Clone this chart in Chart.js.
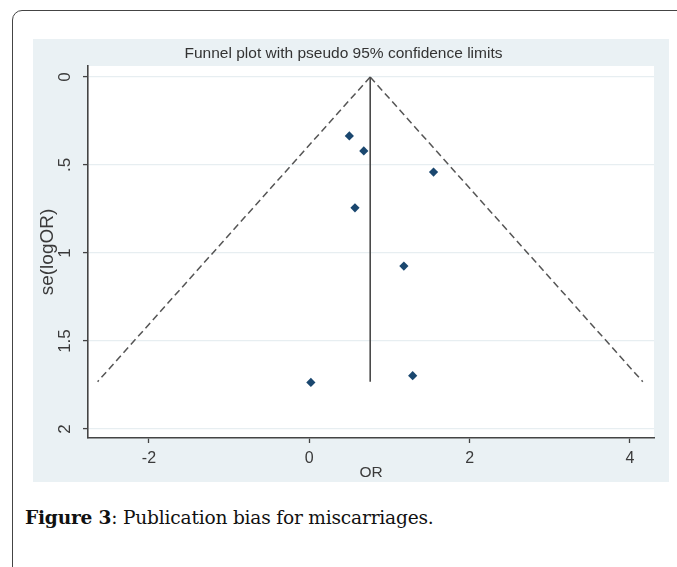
<!DOCTYPE html>
<html>
<head>
<meta charset="utf-8">
<script src="https://cdn.jsdelivr.net/npm/chart.js@4/dist/chart.umd.min.js"></script>
<style>
  html, body { margin: 0; padding: 0; background: #fff; overflow: hidden; }
  body { width: 677px; height: 567px; position: relative; }
  .frame {
    position: absolute; left: 12px; top: 10px; width: 800px; height: 700px;
    border: 1.5px solid #444; border-radius: 10px; box-sizing: border-box;
  }
  .panel {
    position: absolute; left: 33px; top: 39px; width: 636px; height: 443px;
    background: #eaf1f4;
  }
  .caption {
    position: absolute; left: 25px; top: 507px;
    font-family: "DejaVu Serif", "Liberation Serif", serif; font-size: 18.6px; color: #111;
    white-space: nowrap; letter-spacing: -0.2px;
  }
  .caption b { font-weight: bold; }
</style>
</head>
<body>
<div class="frame"></div>
<div class="panel"><canvas id="funnel" width="636" height="443"></canvas></div>
<div class="caption"><b>Figure 3</b>: Publication bias for miscarriages.</div>

<script>
// --- datos ---
const orValues = [0.50, 0.68, 1.55, 0.57, 1.18, 0.02, 1.29];
const seValues = [0.335, 0.42, 0.54, 0.743, 1.074, 1.735, 1.697];

// linea del efecto combinado y limites pseudo 95%
const pooledLine = [{ x: 0.76, y: 0 }, { x: 0.76, y: 1.731 }];
const leftLimit = [{ x: 0.76, y: 0 }, { x: -2.64, y: 1.731 }];
const rightLimit = [{ x: 0.76, y: 0 }, { x: 4.16, y: 1.731 }];

const xTicks = [-2, 0, 2, 4];
const yTicks = [0, 0.5, 1, 1.5, 2];
const yTickLabels = ['0', '.5', '1', '1.5', '2'];

const studyPoints = orValues.map((v, i) => ({ x: v, y: seValues[i] }));

// fondo blanco del area de trazado (estilo Stata)
const plotBg = {
  id: 'plotBg',
  beforeDraw(chart) {
    const { ctx, chartArea: a } = chart;
    ctx.save();
    ctx.fillStyle = '#ffffff';
    ctx.fillRect(a.left, a.top, a.right - a.left, a.bottom - a.top);
    ctx.restore();
  }
};

const sans = '"Liberation Sans", Arial, sans-serif';

new Chart(document.getElementById('funnel'), {
  type: 'scatter',
  data: {
    datasets: [
      {
        label: 'studies',
        data: studyPoints,
        pointStyle: 'rectRot',
        pointRadius: 4.6,
        backgroundColor: '#1a476f',
        borderColor: '#1a476f',
        borderWidth: 0,
        order: 0
      },
      {
        label: 'pooled',
        data: pooledLine,
        showLine: true,
        borderColor: '#4a4a4a',
        borderWidth: 1.6,
        pointRadius: 0,
        order: 1
      },
      {
        label: 'lower',
        data: leftLimit,
        showLine: true,
        borderColor: '#555',
        borderWidth: 1.5,
        borderDash: [7, 4],
        pointRadius: 0,
        order: 1
      },
      {
        label: 'upper',
        data: rightLimit,
        showLine: true,
        borderColor: '#555',
        borderWidth: 1.5,
        borderDash: [7, 4],
        pointRadius: 0,
        order: 1
      }
    ]
  },
  options: {
    responsive: false,
    animation: false,
    events: [],
    layout: { padding: { left: 0, right: 15, top: 0, bottom: 0 } },
    plugins: {
      legend: { display: false },
      tooltip: { enabled: false },
      title: {
        display: true,
        text: 'Funnel plot with pseudo 95% confidence limits',
        color: '#333',
        font: { family: sans, size: 15.5, weight: 'normal', lineHeight: 1.2 },
        padding: { top: 5, bottom: 3.4 }
      }
    },
    scales: {
      x: {
        type: 'linear',
        min: -2.76,
        max: 4.30,
        afterBuildTicks: (s) => { s.ticks = xTicks.map(v => ({ value: v })); },
        afterFit: (s) => { s.height = 44; },
        border: { display: true, color: '#444', width: 1.6 },
        grid: { drawOnChartArea: false, drawTicks: true, tickLength: 5, tickColor: '#444', tickWidth: 1.3 },
        ticks: { color: '#3a3a3a', font: { family: sans, size: 16 }, padding: 6, maxRotation: 0 },
        title: { display: true, text: 'OR', color: '#3a3a3a', font: { family: sans, size: 15.5 }, padding: { top: 0, bottom: 0 } }
      },
      y: {
        type: 'linear',
        reverse: true,
        min: -0.0625,
        max: 2.051,
        afterBuildTicks: (s) => { s.ticks = yTicks.map(v => ({ value: v })); },
        afterFit: (s) => { s.width = 55; },
        border: { display: true, color: '#444', width: 1.6 },
        grid: { color: '#e7eef1', lineWidth: 1.2, drawTicks: true, tickLength: 5, tickColor: '#444', tickWidth: 1.3 },
        ticks: {
          color: '#3a3a3a',
          font: { family: sans, size: 17 },
          minRotation: 90,
          maxRotation: 90,
          crossAlign: 'center',
          padding: 6,
          callback: (v) => {
            const i = yTicks.indexOf(v);
            return i >= 0 ? yTickLabels[i] : '';
          }
        },
        title: { display: true, text: 'se(logOR)', color: '#3a3a3a', font: { family: sans, size: 19 }, padding: { top: 3.5, bottom: 0 } }
      }
    }
  },
  plugins: [plotBg]
});
</script>
</body>
</html>
